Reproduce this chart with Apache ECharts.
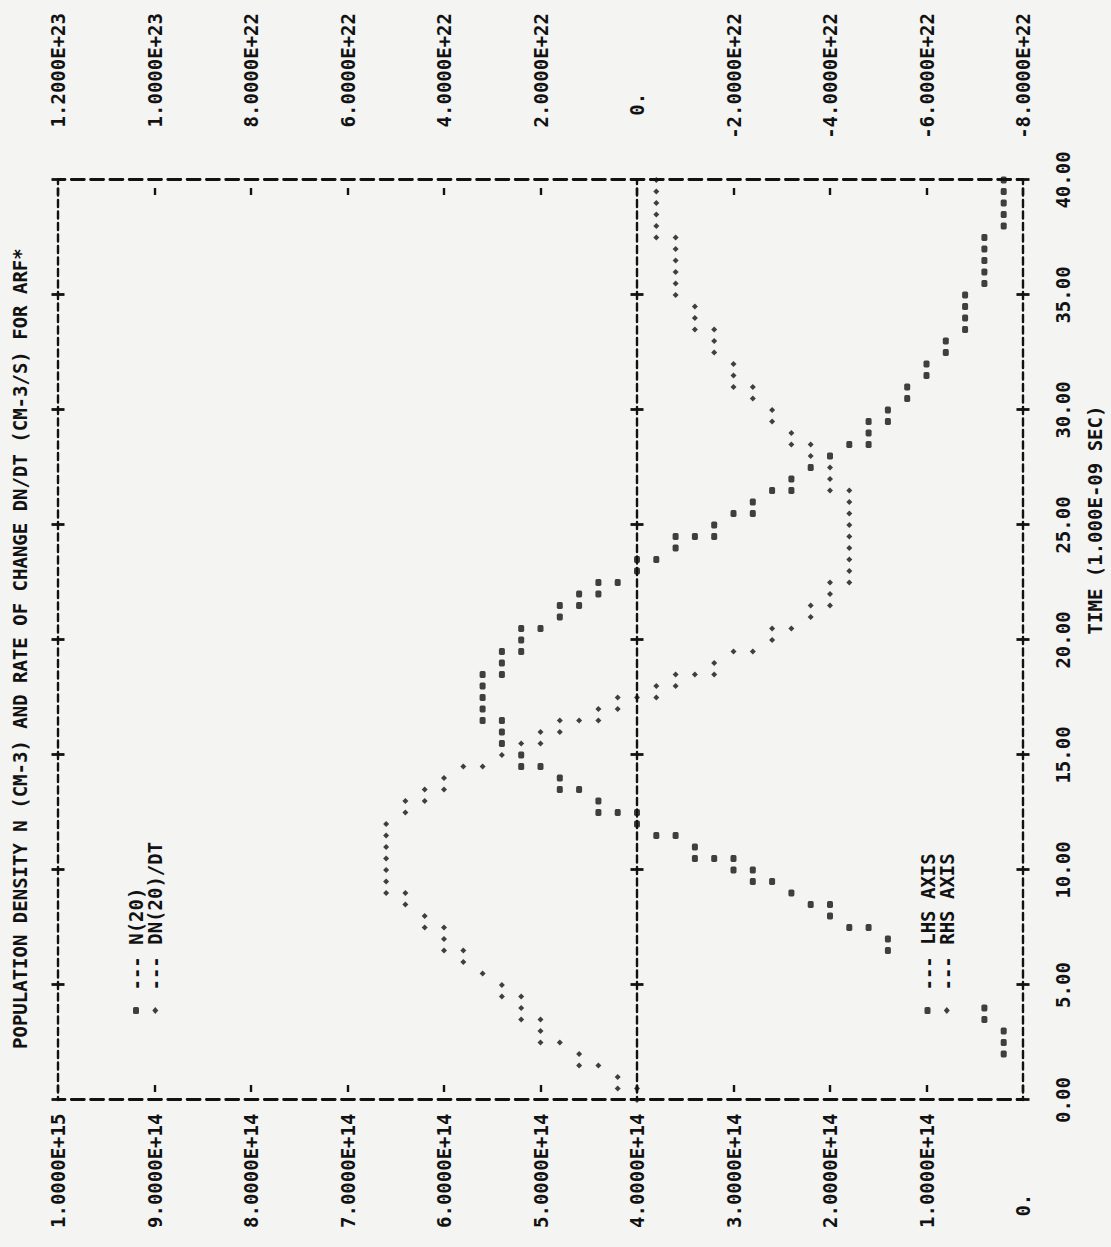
<!DOCTYPE html>
<html>
<head>
<meta charset="utf-8">
<script src="https://cdn.jsdelivr.net/npm/echarts@6/dist/echarts.min.js"></script>
<style>
  html, body { margin: 0; padding: 0; width: 1111px; height: 1247px; overflow: hidden; background: #f4f4f3; }
  /* the printout runs sideways: the plot is laid out landscape and turned a quarter turn */
  #sheet { position: absolute; left: 0; top: 0; width: 1247px; height: 1111px;
           transform-origin: 0 0; transform: translateY(1247px) rotate(-90deg); background: #f4f4f3; }
</style>
</head>
<body>
<div id="sheet"></div>
<script>
// tick labels
const timeTicks = ['0.00', '5.00', '10.00', '15.00', '20.00', '25.00', '30.00', '35.00', '40.00'];
const lhsTicks = ['0.', '1.0000E+14', '2.0000E+14', '3.0000E+14', '4.0000E+14', '5.0000E+14',
                  '6.0000E+14', '7.0000E+14', '8.0000E+14', '9.0000E+14', '1.0000E+15'];
const rhsTicks = ['-8.0000E+22', '-6.0000E+22', '-4.0000E+22', '-2.0000E+22', '0.', '2.0000E+22',
                  '4.0000E+22', '6.0000E+22', '8.0000E+22', '1.0000E+23', '1.2000E+23'];

// N(20), population density (cm-3) against time (ns)
const nTime = [
  2, 2.5, 3, 3.5, 4, 6.5, 7, 7.5, 7.5, 8, 8.5, 8.5, 9, 9.5, 9.5, 10, 10,
  10.5, 10.5, 10.5, 11, 11.5, 11.5, 12, 12.5, 12.5, 12.5, 13, 13.5, 13.5, 14, 14.5, 14.5,
  15, 15.5, 16, 16.5, 16.5, 17, 17.5, 18, 18.5, 18.5, 19, 19.5, 19.5, 20, 20.5, 20.5,
  21, 21.5, 21.5, 22, 22, 22.5, 22.5, 23, 23.5, 23.5, 24, 24.5, 24.5, 24.5, 25, 25.5, 25.5,
  26, 26.5, 26.5, 27, 27.5, 28, 28.5, 28.5, 29, 29.5, 29.5, 30, 30.5, 31, 31.5, 32, 32.5,
  33, 33.5, 34, 34.5, 35, 35.5, 36, 36.5, 37, 37.5, 38, 38.5, 39, 39.5, 40
];
const nValue = [
  0.2e14, 0.2e14, 0.2e14, 0.4e14, 0.4e14, 1.4e14, 1.4e14, 1.6e14, 1.8e14, 2.0e14, 2.0e14, 2.2e14, 2.4e14, 2.6e14, 2.8e14, 2.8e14, 3.0e14,
  3.0e14, 3.2e14, 3.4e14, 3.4e14, 3.6e14, 3.8e14, 4.0e14, 4.0e14, 4.2e14, 4.4e14, 4.4e14, 4.6e14, 4.8e14, 4.8e14, 5.0e14, 5.2e14,
  5.2e14, 5.4e14, 5.4e14, 5.4e14, 5.6e14, 5.6e14, 5.6e14, 5.6e14, 5.6e14, 5.4e14, 5.4e14, 5.4e14, 5.2e14, 5.2e14, 5.2e14, 5.0e14,
  4.8e14, 4.8e14, 4.6e14, 4.6e14, 4.4e14, 4.4e14, 4.2e14, 4.0e14, 4.0e14, 3.8e14, 3.6e14, 3.6e14, 3.4e14, 3.2e14, 3.2e14, 3.0e14, 2.8e14,
  2.8e14, 2.6e14, 2.4e14, 2.4e14, 2.2e14, 2.0e14, 1.8e14, 1.6e14, 1.6e14, 1.6e14, 1.4e14, 1.4e14, 1.2e14, 1.2e14, 1.0e14, 1.0e14, 0.8e14,
  0.8e14, 0.6e14, 0.6e14, 0.6e14, 0.6e14, 0.4e14, 0.4e14, 0.4e14, 0.4e14, 0.4e14, 0.2e14, 0.2e14, 0.2e14, 0.2e14, 0.2e14
];

// DN(20)/DT, rate of change (cm-3/s) against time (ns)
const rTime = [
  0, 0.5, 0.5, 1, 1.5, 1.5, 2, 2.5, 2.5, 3, 3.5, 3.5, 4, 4.5, 4.5, 5, 5.5, 6, 6.5, 6.5,
  7, 7.5, 7.5, 8, 8.5, 9, 9, 9.5, 10, 10.5, 11, 11.5, 12, 12.5, 13, 13, 13.5, 13.5, 14,
  14.5, 14.5, 15, 15.5, 15.5, 16, 16, 16.5, 16.5, 16.5, 17, 17, 17.5, 17.5, 17.5, 18, 18,
  18.5, 18.5, 18.5, 19, 19.5, 19.5, 20, 20.5, 20.5, 21, 21.5, 21.5, 22, 22.5, 22.5,
  23, 23.5, 24, 24.5, 25, 25.5, 26, 26.5, 26.5, 27, 27.5, 28, 28.5, 28.5, 29, 29.5, 30,
  30.5, 31, 31, 31.5, 32, 32.5, 33, 33.5, 33.5, 34, 34.5, 35, 35.5, 36, 36.5, 37, 37.5, 37.5,
  38, 38.5, 39, 39.5, 40
];
const rValue = [
  0, 0, 0.4e22, 0.4e22, 0.8e22, 1.2e22, 1.2e22, 1.6e22, 2.0e22, 2.0e22, 2.0e22, 2.4e22, 2.4e22, 2.4e22, 2.8e22, 2.8e22, 3.2e22, 3.6e22, 3.6e22, 4.0e22,
  4.0e22, 4.0e22, 4.4e22, 4.4e22, 4.8e22, 4.8e22, 5.2e22, 5.2e22, 5.2e22, 5.2e22, 5.2e22, 5.2e22, 5.2e22, 4.8e22, 4.8e22, 4.4e22, 4.4e22, 4.0e22, 4.0e22,
  3.6e22, 3.2e22, 2.8e22, 2.4e22, 2.0e22, 2.0e22, 1.6e22, 1.6e22, 1.2e22, 0.8e22, 0.8e22, 0.4e22, 0.4e22, 0, -0.4e22, -0.4e22, -0.8e22,
  -0.8e22, -1.2e22, -1.6e22, -1.6e22, -2.0e22, -2.4e22, -2.8e22, -2.8e22, -3.2e22, -3.6e22, -3.6e22, -4.0e22, -4.0e22, -4.0e22, -4.4e22,
  -4.4e22, -4.4e22, -4.4e22, -4.4e22, -4.4e22, -4.4e22, -4.4e22, -4.4e22, -4.0e22, -4.0e22, -4.0e22, -3.6e22, -3.6e22, -3.2e22, -3.2e22, -2.8e22, -2.8e22,
  -2.4e22, -2.4e22, -2.0e22, -2.0e22, -2.0e22, -1.6e22, -1.6e22, -1.6e22, -1.2e22, -1.2e22, -1.2e22, -0.8e22, -0.8e22, -0.8e22, -0.8e22, -0.8e22, -0.8e22, -0.4e22,
  -0.4e22, -0.4e22, -0.4e22, -0.4e22, -0.4e22
];

const FONT = 'DejaVu Sans Mono';
const INK = '#121212';
const CELL = 11.4;   // printer character pitch in px
const textBase = { fontFamily: FONT, fontSize: 19, fontWeight: 'bold', color: INK };

// printer rows: "-" every column, "I" at every tick; printer columns: "I" on every line
const rowDash = { type: [7, 4.5], dashOffset: 3.5, width: 2.4, color: INK };
const colDash = { type: [13, 6.3], dashOffset: 6.5, width: 2.8, color: INK };
const tickStyle = { width: 2.8, color: INK };

function timeAxis(extra) {
  return Object.assign({
    type: 'value', min: 0, max: 40, interval: 5,
    axisLine: { show: false, onZero: false },
    axisTick: { show: false },
    axisLabel: { show: false },
    splitLine: { show: false }
  }, extra);
}
function lhsAxis(extra) {
  return Object.assign({
    type: 'value', min: 0, max: 1e15, interval: 1e14,
    axisLine: { show: false, onZero: false },
    axisTick: { show: false },
    axisLabel: { show: false },
    splitLine: { show: false }
  }, extra);
}

// the zero label sits inside the fixed-width number field
function lhsLabel(v) {
  const s = lhsTicks[Math.round(v / 1e14)];
  return s === '0.' ? '{zero|' + s + '}' : s;
}
function rhsLabel(v) {
  const s = rhsTicks[Math.round((v + 8e22) / 2e22)];
  return s === '0.' ? '{zero|' + s + '}' : s;
}

const chart = echarts.init(document.getElementById('sheet'), null, { renderer: 'svg' });

chart.setOption({
  animation: false,
  backgroundColor: '#f4f4f3',
  title: {
    text: 'POPULATION DENSITY N (CM-3) AND RATE OF CHANGE DN/DT (CM-3/S) FOR ARF*',
    left: 198, top: 10, padding: 0,
    textStyle: Object.assign({}, textBase, { lineHeight: 20 })
  },
  graphic: [{
    type: 'text', x: 727, y: 1095,
    style: { text: 'TIME (1.000E-09 SEC)', fontFamily: FONT, fontSize: 19, fontWeight: 'bold', fill: INK,
             align: 'center', verticalAlign: 'middle' }
  }],
  legend: [{
    data: ['N(20)', 'DN(20)/DT'],
    orient: 'vertical', left: 233, top: 126.5, padding: 0,
    itemWidth: 7, itemHeight: 6, itemGap: 0.3, selectedMode: false,
    formatter: name => ' --- ' + name,
    textStyle: Object.assign({}, textBase, { lineHeight: 19 })
  }, {
    data: ['N(20)', 'DN(20)/DT'],
    orient: 'vertical', left: 233, top: 918, padding: 0,
    itemWidth: 7, itemHeight: 6, itemGap: 0.3, selectedMode: false,
    formatter: name => name === 'N(20)' ? ' --- LHS AXIS' : ' --- RHS AXIS',
    textStyle: Object.assign({}, textBase, { lineHeight: 19 })
  }],
  grid: { left: 147, top: 58, width: 920, height: 965 },
  xAxis: [
    // bottom row with the time labels
    timeAxis({ position: 'bottom', axisLine: { show: true, onZero: false, lineStyle: rowDash },
      axisLabel: Object.assign({ show: true, margin: 40, verticalAlign: 'middle',
        formatter: v => timeTicks[Math.round(v / 5)] }, textBase) }),
    timeAxis({ position: 'bottom', offset: -6.5, axisTick: { show: true, length: 13, lineStyle: tickStyle } }),
    // top row
    timeAxis({ position: 'top', axisLine: { show: true, onZero: false, lineStyle: rowDash } }),
    timeAxis({ position: 'top', offset: -6.5, axisTick: { show: true, length: 13, lineStyle: tickStyle } }),
    // middle row at 4.0000E+14 / 0.
    timeAxis({ position: 'bottom', offset: -386, axisLine: { show: true, onZero: false, lineStyle: rowDash } }),
    timeAxis({ position: 'bottom', offset: -392.5, axisTick: { show: true, length: 13, lineStyle: tickStyle } })
  ],
  yAxis: [
    lhsAxis({ position: 'left', axisLine: { show: true, onZero: false, lineStyle: colDash },
      axisLabel: Object.assign({ show: true, margin: 128, align: 'left', formatter: lhsLabel,
        rich: { zero: Object.assign({}, textBase, { padding: [0, 0, 0, CELL] }) } }, textBase) }),
    {
      type: 'value', min: -8e22, max: 1.2e23, interval: 2e22, position: 'right',
      axisLine: { show: true, onZero: false, lineStyle: colDash },
      axisTick: { show: false }, splitLine: { show: false },
      axisLabel: Object.assign({ show: true, margin: 167, align: 'right', formatter: rhsLabel,
        rich: { zero: Object.assign({}, textBase, { padding: [0, 7 * CELL, 0, 0] }) } }, textBase)
    },
    // "-" beside the border at each labelled line
    lhsAxis({ position: 'left', offset: -15, axisTick: { show: true, length: 7, lineStyle: { width: 2.4, color: INK } } }),
    lhsAxis({ position: 'right', offset: -15, axisTick: { show: true, length: 7, lineStyle: { width: 2.4, color: INK } } })
  ],
  series: [{
    name: 'N(20)', type: 'scatter', xAxisIndex: 0, yAxisIndex: 0,
    data: nTime.map((t, i) => [t, nValue[i]]),
    symbol: 'roundRect', symbolSize: [7, 6],
    itemStyle: { color: INK }, silent: true
  }, {
    name: 'DN(20)/DT', type: 'scatter', xAxisIndex: 0, yAxisIndex: 1,
    data: rTime.map((t, i) => [t, rValue[i]]),
    symbol: 'diamond', symbolSize: [6, 6],
    itemStyle: { color: INK }, silent: true
  }]
});
</script>
</body>
</html>
